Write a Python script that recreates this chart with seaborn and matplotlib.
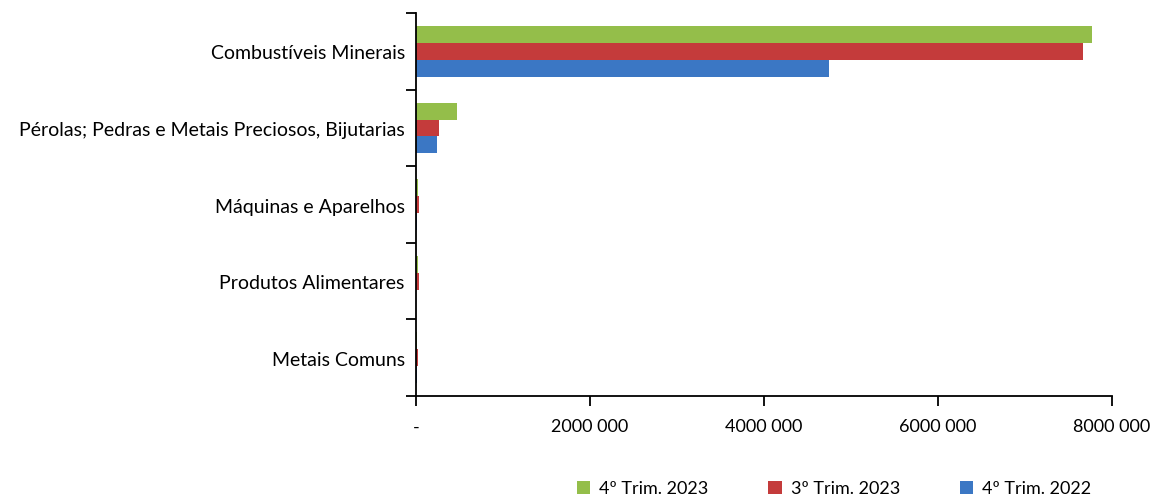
import matplotlib
matplotlib.use("Agg")
import matplotlib.pyplot as plt
import numpy as np
import pandas as pd
import seaborn as sns

# data
categories = ["Combustíveis Minerais",
              "Pérolas; Pedras e Metais Preciosos, Bijutarias",
              "Máquinas e Aparelhos",
              "Produtos Alimentares",
              "Metais Comuns"]
series = ["4º Trim. 2023", "3º Trim. 2023", "4º Trim. 2022"]
trim4_2023 = [7770000, 470000, 25000, 20000, 15000]
trim3_2023 = [7670000, 260000, 35000, 30000, 25000]
trim4_2022 = [4750000, 240000, 8000, 5000, 9000]
xticks = [0, 2000000, 4000000, 6000000, 8000000]
xtick_labels = ["-", "2000 000", "4000 000", "6000 000", "8000 000"]

colors = ["#94BE4A", "#C43B3B", "#3B77C4"]

df = pd.DataFrame({
    "categoria": categories * 3,
    "serie": [series[0]] * 5 + [series[1]] * 5 + [series[2]] * 5,
    "valor": trim4_2023 + trim3_2023 + trim4_2022,
})

sns.set_style("white")
plt.rcParams["font.family"] = ["Lato", "DejaVu Sans"]
plt.rcParams["text.color"] = "black"
plt.rcParams["xtick.color"] = "black"
plt.rcParams["ytick.color"] = "black"

fig = plt.figure(figsize=(11.6, 5.02), dpi=100)
ax = fig.add_axes([0.3586, 0.209, 0.6, 0.763])

sns.barplot(data=df, y="categoria", x="valor", hue="serie", hue_order=series,
            palette=colors, orient="h", width=0.66, gap=0, saturation=1,
            linewidth=0, ax=ax, legend=True)

ax.set_xlim(0, 8000000)
ax.set_ylim(4.5, -0.5)
ax.set_xticks(xticks)
ax.set_xticklabels(xtick_labels, fontsize=13)
ax.set_xlabel("")
ax.set_ylabel("")
ax.tick_params(axis="y", which="major", left=False, length=0, labelsize=14, pad=8)
ax.set_yticks(np.arange(-0.5, 5, 1), minor=True)
ax.tick_params(axis="y", which="minor", left=True, length=7, width=1.3, color="black", direction="out")
ax.tick_params(axis="x", which="major", bottom=True, length=7, width=1.3, color="black", direction="out", pad=9)

for s in ["top", "right"]:
    ax.spines[s].set_visible(False)
for s in ["left", "bottom"]:
    ax.spines[s].set_color("black")
    ax.spines[s].set_linewidth(1.3)

handles, labels = ax.get_legend_handles_labels()
ax.get_legend().remove()
fig.legend(handles, labels, loc="center", bbox_to_anchor=(0.719, 0.025), ncol=3,
           frameon=False, fontsize=13, handlelength=0.75, handleheight=0.75,
           handletextpad=0.5, columnspacing=3.3)

fig.savefig("out.png", dpi=100)
